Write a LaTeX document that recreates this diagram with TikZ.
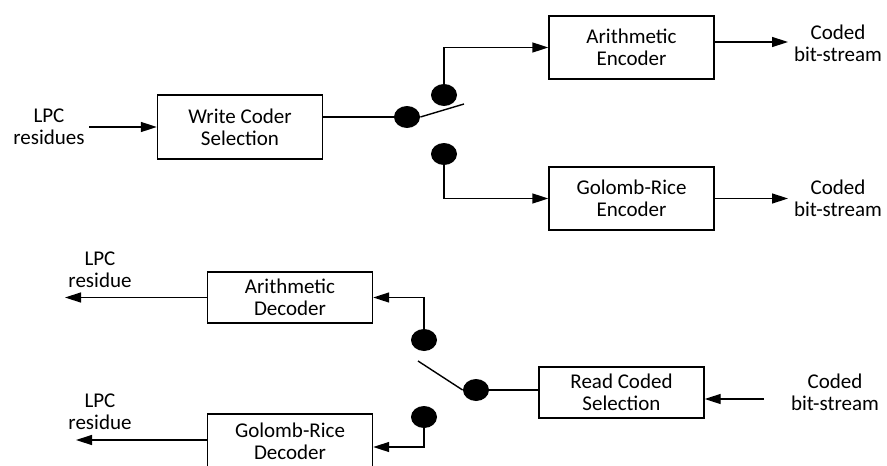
\documentclass[tikz,border=0pt]{standalone}
\usepackage{fontspec}
\setmainfont{Carlito}
\usetikzlibrary{shapes.geometric,arrows.meta}
\tikzset{
  block/.style={draw, line width=0.7pt, minimum width=82.5pt, align=center},
  swdot/.style={ellipse, fill=black, inner sep=0pt, minimum width=13pt, minimum height=11pt},
  lbl/.style={align=center},
  arr/.style={line width=0.7pt, -{Triangle[length=8pt,width=5pt]}},
  wire/.style={line width=0.7pt}
}
\begin{document}
\begin{tikzpicture}[x=0.5pt, y=-0.5pt, font=\fontsize{10.5}{11}\selectfont]
\useasboundingbox (0,0) rectangle (887,465);
% encoder side
\node[lbl] (lpcin) at (49,127) {LPC\\residues};
\node[block, minimum height=32pt] (wcs) at (240,127) {Write Coder\\Selection};
\node[block, minimum height=31.5pt] (ae) at (631.5,47.5) {Arithmetic\\Encoder};
\node[block, minimum height=31.5pt] (gre) at (631.5,198.5) {Golomb-Rice\\Encoder};
\node[lbl] (cbs1) at (838,43) {Coded\\bit-stream};
\node[lbl] (cbs2) at (838,198.5) {Coded\\bit-stream};
\node[swdot] (wdot) at (407,117) {};
\node[swdot] (adot) at (444,95) {};
\node[swdot] (gdot) at (444,154) {};
\coordinate (win) at (89,127);
\coordinate (wtip) at (464,104);
\coordinate (aout) at (788,42);
\coordinate (gout) at (788,198.5);
\draw[arr] (win) -- (wcs.west);
\draw[wire] (wdot) -- (wdot -| wcs.east);
\draw[wire] (wdot.east) -- (wtip);
\draw[arr] (adot) |- (ae.west);
\draw[arr] (gdot) |- (gre.west);
\draw[arr] (aout -| ae.east) -- (aout);
\draw[arr] (gre.east) -- (gout);
% decoder side
\node[lbl] (lpcout1) at (100,269.5) {LPC\\residue};
\node[lbl] (lpcout2) at (100,412) {LPC\\residue};
\node[block, minimum height=25.5pt] (ad) at (290,297.5) {Arithmetic\\Decoder};
\node[block, minimum height=27pt] (grd) at (290,441) {Golomb-Rice\\Decoder};
\node[block, minimum height=25.5pt] (rcs) at (621.5,392.5) {Read Coded\\Selection};
\node[lbl] (cbsin) at (835,392) {Coded\\bit-stream};
\node[swdot] (ddot1) at (424,340) {};
\node[swdot] (ddot2) at (424,417) {};
\node[swdot] (rdot) at (476,390) {};
\coordinate (o1) at (65,297.5);
\coordinate (o2) at (76,440);
\coordinate (rtip) at (418,361);
\coordinate (cin) at (764,399);
\draw[arr] (grd.west |- o2) -- (o2);
\draw[arr] (ad.west) -- (o1);
\draw[arr] (ddot1) |- (ad.east);
\draw[arr] (ddot2) |- ([yshift=-3pt]grd.east);
\draw[wire] (rdot.west) -- (rtip);
\draw[wire] (rdot) -- (rdot -| rcs.west);
\draw[arr] (cin) -- (cin -| rcs.east);
\end{tikzpicture}
\end{document}
